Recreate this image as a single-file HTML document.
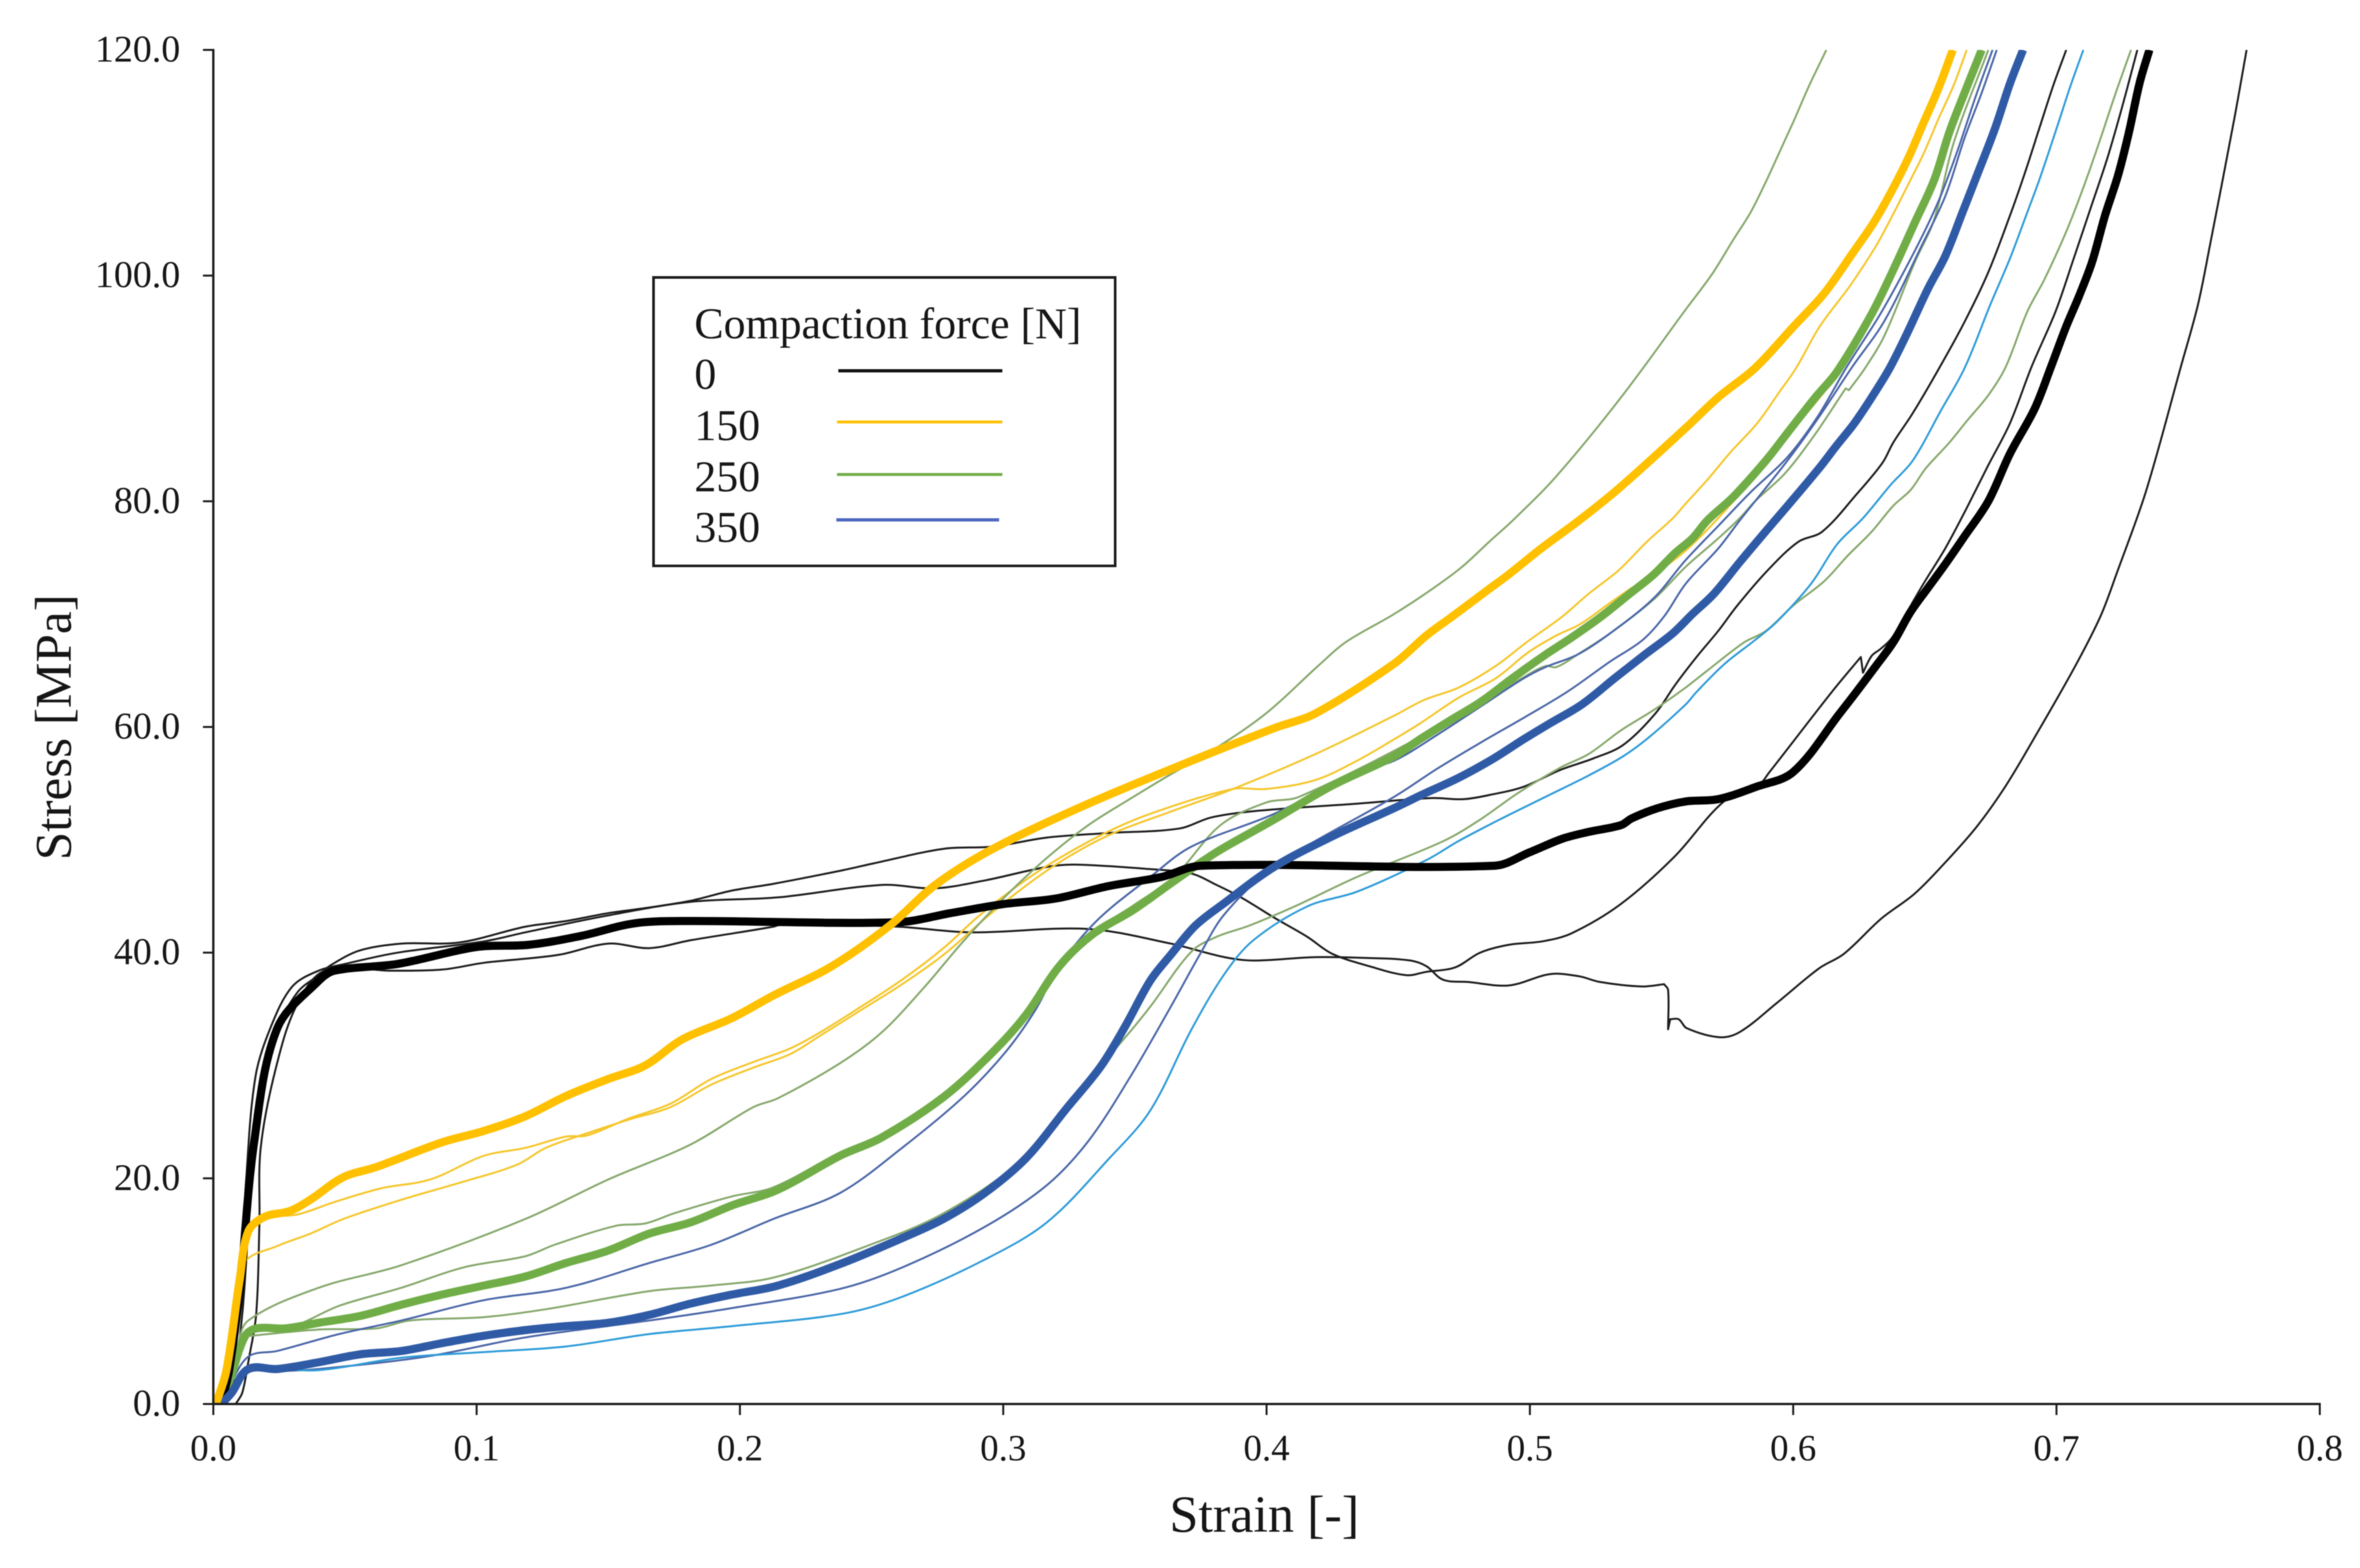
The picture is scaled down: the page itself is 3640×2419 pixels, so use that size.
<!DOCTYPE html>
<html lang="en">
<head>
<meta charset="utf-8">
<title>Stress vs Strain by Compaction Force</title>
<style>
  html, body { margin: 0; padding: 0; background: #fff; }
  body { width: 3640px; height: 2419px; overflow: hidden; }
  svg { display: block; filter: blur(0.8px); }
  text { font-family: "Liberation Serif", "Times New Roman", serif; fill: #151515; }
</style>
</head>
<body>
<svg id="chart" xmlns="http://www.w3.org/2000/svg" width="3640" height="2419" viewBox="0 0 3640 2419">
  <defs>
    <clipPath id="plot-clip"><rect x="329" y="77" width="3249" height="2089"/></clipPath>
  </defs>
  <rect x="0" y="0" width="3640" height="2419" fill="#ffffff"/>
  <g id="curves" clip-path="url(#plot-clip)"></g>
  <g id="axes"></g>
  <text x="1950" y="2363" font-size="80.5" text-anchor="middle">Strain [-]</text>
  <text transform="translate(109 1122) rotate(-90)" font-size="79" text-anchor="middle">Stress [MPa]</text>
  <g>
    <rect x="1008" y="428" width="712" height="445" fill="#ffffff" stroke="#1a1a1a" stroke-width="4"/>
    <text x="1071" y="522" font-size="67.6">Compaction force [N]</text>
    <text x="1071" y="600" font-size="67.6">0</text>
    <line x1="1293" y1="572" x2="1546" y2="572" stroke="#111111" stroke-width="5"/>
    <text x="1071" y="679" font-size="67.6">150</text>
    <line x1="1291" y1="651" x2="1546" y2="651" stroke="#FFC000" stroke-width="4.5"/>
    <text x="1071" y="758" font-size="67.6">250</text>
    <line x1="1291" y1="732" x2="1546" y2="732" stroke="#70AD47" stroke-width="4.5"/>
    <text x="1071" y="836" font-size="67.6">350</text>
    <line x1="1290" y1="802" x2="1541" y2="802" stroke="#4A66BE" stroke-width="5"/>
  </g>
</svg>
<script>
const xTickValues = [0, 0.1, 0.2, 0.3, 0.4, 0.5, 0.6, 0.7, 0.8];
const xTickLabels = ["0.0", "0.1", "0.2", "0.3", "0.4", "0.5", "0.6", "0.7", "0.8"];
const yTickValues = [0, 20, 40, 60, 80, 100, 120];
const yTickLabels = ["0.0", "20.0", "40.0", "60.0", "80.0", "100.0", "120.0"];

const blackThinAStrain = [.002,.007,.011,.014,.018,.024,.032,.04,.0447,.0557,.0714,.0934,.1185,.134,.15,.1656,.1813,.197,.2127,.239,.2506,.2773,.2961,.3166,.34,.3668,.3793,.3982,.4343,.4624,.4747,.4853,.4976,.5116,.524,.5354,.5477,.5551,.5633,.5715,.5789,.5904,.6019,.611,.624,.6339,.638,.6454,.6552,.6651,.6741,.6823,.688,.693,.6987,.7037];
const blackThinAStress = [0,1.5,8,18,27,33,36.5,38,38.9,40.2,40.8,40.9,42.3,42.8,43.5,44,44.6,45.5,46.1,47.3,47.9,49.2,49.4,50.2,50.6,51,52,52.6,53.2,53.7,53.6,54,54.7,56.2,57.2,58.4,61.2,63.7,66.2,68.5,70.8,73.9,76.4,77.3,80.6,83.4,85.2,87.8,91.7,95.9,100.3,105.3,109.1,112.7,116.8,120];

const blackThinBStrain = [.001,.006,.010,.0125,.016,.022,.03,.04,.05,.07,.1028,.1185,.15,.1813,.2145,.2537,.274,.293,.3166,.3275,.3558,.3715,.381,.3903,.4029,.4155,.4249,.439,.4531,.4607,.4717,.4811,.4921,.5047,.5157,.5345,.5549,.5737,.5863,.591,.615,.6257,.6265,.6298,.6331,.6372,.6413,.6495,.6577,.6659,.6741,.6823,.6905,.6996,.7061,.7127,.7193,.725,.7307];
const blackThinBStress = [0,2,10,20,29,33.5,37,38.4,39,40,41,41.8,43.3,44.5,44.9,46,45.7,46.4,47.6,47.8,47.4,47,46,44.9,43.1,41.4,39.9,38.8,38,38.3,38.7,40,40.7,41,41.7,44.3,48.5,53.4,54.7,56,63.2,66.2,64.8,66.3,66.9,67.8,69.4,72.7,75.8,79.4,83.2,86.9,91.9,96.8,101.2,105.8,110.4,115,120];

const blackThinCStrain = [.0085,.011,.0135,.0163,.0175,.018,.024,.032,.0431,.0667,.087,.1028,.131,.15,.1656,.1813,.2127,.2174,.26,.288,.332,.3636,.384,.395,.4186,.442,.4547,.4607,.467,.4764,.4921,.5078,.5188,.5266,.5423,.551,.5525,.5525,.5533,.5565,.5596,.5722,.58,.5941,.6098,.6193,.6334,.646,.657,.6695,.6805,.6915,.7069,.7167,.723,.734,.7472,.7537,.7587,.7628,.7677,.7722];
const blackThinCStress = [0,1,4,8,16,22.7,30,35.5,38.5,38.4,38.5,39.1,39.8,40.8,40.4,41.1,42.3,42.6,42.3,41.8,42.1,40.8,39.6,39.3,39.6,39.5,39.3,38.8,37.6,37.4,37.1,38.1,37.9,37.4,37,37.2,36.7,33.2,34.1,34.1,33.3,32.5,33,35.6,38.6,39.9,43,45.2,47.8,51.1,54.7,59,65.3,69.8,73.7,80.9,91.9,97.4,103.2,108.1,114.1,120];

const yellowThinAStrain = [.001,.005,.01,.014,.018,.032,.046,.0635,.0824,.1028,.1185,.134,.142,.1577,.1735,.1891,.205,.219,.2302,.2459,.2616,.2773,.29,.3024,.3166,.337,.3558,.3872,.3998,.4186,.4343,.4484,.4582,.473,.487,.4993,.51,.519,.5305,.5379,.547,.56,.5773,.5986,.6167,.638,.6593,.6716];
const yellowThinAStress = [0,4,11,15,16.4,16.8,17.9,19.1,19.9,22,22.7,23.7,23.8,25.3,26.6,28.8,30.3,31.5,32.9,35.2,37.6,40.4,43.1,45.4,47.7,50.4,52.3,54.5,54.5,55.3,57,58.9,60.3,62.6,64.3,66.6,68.1,69.1,71,72.2,73.5,75.8,80,86,91.3,100.3,112.5,120];

const yellowThinBStrain = [.001,.004,.008,.0117,.0243,.0369,.0494,.0714,.0949,.1153,.1263,.142,.1577,.1735,.1891,.205,.219,.2302,.2459,.2616,.2773,.293,.3056,.3213,.34,.3636,.3872,.4186,.4484,.4599,.473,.487,.4993,.5124,.5223,.5338,.5444,.5543,.5592,.5674,.5764,.5863,.5945,.6011,.6101,.6216,.6314,.6372,.6446,.6495,.6552,.661,.6659];
const yellowThinBStress = [0,3,8,12.5,14,15.1,16.4,18.1,19.7,21.2,22.7,24,25.2,26.3,28.3,29.8,31,32.6,34.9,37.2,39.8,43,45.4,48,50.4,52.5,54.5,57.6,61,62.4,63.5,65.4,67.6,69.8,71.8,73.9,76.4,78.5,79.8,81.9,84.4,86.9,89.6,91.8,95.5,99.1,102.6,105.1,108.5,110.8,113.9,116.9,120];

const greenThinAStrain = [.001,.005,.009,.0133,.04,.0714,.1185,.15,.1813,.205,.2145,.238,.2537,.2695,.2852,.3009,.3166,.3323,.348,.3636,.3793,.3998,.42,.43,.4484,.4615,.4738,.4845,.4944,.51,.5346,.5592,.5691,.5773,.5838,.5896,.5953,.6002,.606,.6126];
const greenThinAStress = [0,2,5,7.4,10.3,12.3,16.4,19.9,23,26.3,27.1,30.2,32.9,36.8,41.1,45,48.4,51.3,53.6,55.8,57.9,61.2,65.5,67.5,70,72,74.1,76.4,78.5,82.2,89.2,97,100.1,103.2,105.6,108.3,111.2,113.7,116.8,120];

const greenThinBStrain = [.002,.006,.012,.0306,.0478,.0714,.0949,.1185,.1295,.153,.164,.175,.197,.2127,.238,.2537,.2773,.2961,.3087,.3213,.3338,.3495,.3652,.3825,.3998,.4123,.4607,.4976,.5059,.51,.518,.5305,.547,.5592,.5715,.5797,.5855,.597,.6085,.6199,.6212,.6273,.6347,.6462,.6536,.661,.6741];
const greenThinBStress = [0,2,6,6.9,8.7,10.3,12.1,13.1,14.1,15.8,16,16.9,18.4,19.2,22.3,23.9,27.5,31.5,34.8,39,41.8,44.2,46.8,51.3,53.3,53.8,59.4,64.4,65.4,65.3,66.4,68.3,71.3,74.2,76.7,78.5,80,82.5,86,90,89.85,91.8,94.7,101.2,105,111.8,120];

const greenThinCStrain = [.002,.006,.012,.04,.0619,.0745,.1028,.1263,.1656,.189,.2127,.2459,.2773,.3087,.337,.3464,.3558,.3715,.381,.3935,.4107,.4343,.4673,.4812,.4952,.5116,.5223,.5346,.5477,.5592,.5674,.5814,.5896,.6002,.6117,.6208,.6298,.638,.6446,.6503,.6593,.6659,.6741,.6807,.6889,.6955,.7037,.7102,.7168,.7225,.7283];
const greenThinCStress = [0,2,6,6.6,6.7,7.4,7.7,8.4,10,10.5,11.2,13.8,16.9,22,30,32.5,35.2,40.1,41.4,42.4,44.1,46.7,49.9,51.8,54.1,56.4,57.6,59.7,61.6,63.5,65,67.5,68.5,70.8,72.9,75.2,77.3,79.6,81,82.9,85.2,87.1,89.4,91.9,96.8,99.7,103.9,107.8,112.2,116.2,120];

const blueThinAStrain = [.002,.006,.0133,.0243,.0478,.0714,.1028,.134,.1656,.189,.2127,.238,.2616,.2852,.3009,.3119,.3213,.3354,.3558,.3715,.4029,.4343,.4484,.4648,.4812,.4976,.5059,.518,.5305,.547,.5592,.5715,.5838,.5978,.6093,.6203,.6331,.6462,.6552,.6626,.6692,.6757];
const blueThinAStress = [0,1.5,4.2,4.7,6.2,7.4,9.2,10.3,12.5,14.1,16.4,18.7,22.7,27.3,31.2,34.8,38.8,42.8,46.7,49.4,52.3,56,57,59.3,61.8,64.3,65.3,66.4,68.3,71.4,74.8,77.8,80.8,83.9,87.5,91.9,96.6,102.2,106.6,111.2,115.8,120];

const blueThinBStrain = [.003,.007,.0133,.0243,.04,.0808,.1185,.1656,.197,.238,.2616,.293,.3166,.3323,.348,.3636,.3746,.384,.4029,.4186,.4484,.4648,.4812,.4976,.5141,.5305,.5428,.551,.5592,.5715,.5797,.5978,.6093,.6224,.6347,.6487,.6577,.6651,.6716,.6773];
const blueThinBStress = [0,1,2.8,2.9,3.1,4.2,5.9,7.4,8.5,10.2,12.1,15.7,19.4,23.3,28.9,35.2,39.8,43.4,47.7,49.9,53.8,56.3,58.6,60.8,63.1,65.8,67.7,69.8,72.7,75.8,78.3,83.6,87.3,91.9,96,102.6,107,112.2,116.2,120];

const lightBlueThinStrain = [.003,.008,.0133,.04,.0714,.1028,.134,.1656,.197,.239,.2616,.293,.3166,.34,.3558,.3715,.384,.395,.4155,.4343,.4607,.473,.4894,.5059,.5223,.5354,.5453,.5592,.5633,.574,.5855,.5937,.6068,.6167,.6265,.6372,.6454,.656,.6651,.675,.6823,.6889,.6938,.7004,.7053,.7102];
const lightBlueThinStress = [0,1,3,3,4.1,4.6,5.1,6.2,6.9,8,9.5,12.8,16.1,21.7,26,33.2,38.1,41.1,44.1,45.4,48.2,49.9,51.9,53.8,55.7,57.4,59.1,62,63.1,65.6,67.7,69.3,72.7,76.2,78.5,81.5,83.6,88,91.8,97.5,101.5,105.6,108.7,113.3,116.8,120];

const greenThickStrain = [.002,.006,.012,.0164,.0274,.04,.0557,.0714,.087,.1028,.1185,.134,.15,.1656,.1813,.197,.2145,.238,.2537,.2773,.2961,.3087,.3213,.3338,.3495,.3652,.381,.4029,.4249,.4484,.4582,.4706,.4812,.4944,.5059,.5157,.5272,.5379,.547,.5551,.5617,.5674,.5773,.5896,.5986,.6084,.6167,.6298,.638,.6462,.6536,.6593,.6651,.6716];
const greenThickStress = [0,2,6,6.7,6.7,7.2,7.8,8.8,9.7,10.5,11.3,12.5,13.6,15.1,16.1,17.6,19,22,23.6,27.2,31.2,34.5,38.8,41.6,43.8,46.4,48.9,51.8,54.8,57.4,58.9,60.7,62.2,64.5,66.4,67.9,69.8,71.8,73.5,75.4,76.7,78.3,80.4,83.6,86.3,89.2,91.5,96.6,100.5,104.7,108.5,112.7,116.2,120];

const blackThickStrain = [.003,.006,.0101,.0156,.0243,.04,.046,.07,.1,.12,.14,.16,.18,.26,.28,.30,.32,.34,.36,.375,.4866,.5,.5124,.5223,.5346,.5387,.5485,.5592,.5715,.586,.60,.618,.624,.6314,.638,.6446,.6511,.6577,.6651,.6741,.6823,.6917,.6979,.7037,.7086,.7135,.7184,.7234,.7275,.7316,.7353];
const blackThickStress = [0,3,10.2,23.4,33.3,37.5,38.4,39,40.5,40.7,41.5,42.6,42.8,42.7,43.5,44.3,44.8,45.9,46.7,47.7,47.7,48.9,50.1,50.7,51.3,51.9,52.8,53.4,53.6,54.7,56,61.3,63.1,65.4,67.5,70.2,72.3,74.4,76.9,80,84.2,88.2,91.9,95.5,98.2,101.2,105.3,108.9,112.7,117.1,120];

const blueThickStrain = [.003,.007,.0133,.0243,.04,.0557,.0714,.087,.1028,.1185,.134,.15,.1656,.1813,.197,.2145,.238,.2616,.2773,.293,.3087,.3244,.337,.3464,.3558,.3636,.373,.384,.4029,.4249,.4484,.4591,.473,.4862,.4976,.5075,.5198,.5321,.5436,.5543,.5617,.5699,.5797,.5887,.5986,.6101,.6167,.6232,.6298,.6364,.6429,.6511,.6577,.6643,.67,.6766,.6823,.6873];
const blueThickStress = [0,1,3.1,3.1,3.7,4.4,4.7,5.4,6.05,6.55,6.9,7.2,7.9,8.9,9.7,10.5,12.4,14.7,16.4,18.7,21.8,26.3,29.9,33.5,37.5,39.8,42.4,44.4,47.6,50.3,52.8,54,55.5,57.2,58.9,60.3,62,64.3,66.4,68.3,70,71.8,74.6,77.1,79.8,83,85,86.9,89.2,91.7,94.7,98.8,101.7,105.6,109,113,117,120];

const orangeThickStrain = [.001,.005,.01,.0133,.0196,.029,.0368,.0494,.0619,.087,.1028,.1185,.134,.15,.164,.178,.197,.2127,.2349,.2569,.2742,.2961,.3323,.3715,.403,.4186,.4484,.4607,.4706,.4829,.4919,.5042,.5198,.5346,.5592,.5715,.5855,.6002,.6117,.6232,.6306,.6372,.6437,.6487,.6552,.6606];
const orangeThickStress = [0,3,11,15.3,16.6,17.1,18.1,20.1,21,23.2,24.2,25.5,27.3,28.8,30,32.3,34.2,36.2,38.8,42.4,46,49.2,53.2,57,59.9,61.2,65.6,68.1,69.8,71.95,73.5,75.8,78.5,81.3,86.5,89.2,91.8,95.5,98.4,102.2,104.7,107.4,110.4,113.1,116.6,120];

const NS = "http://www.w3.org/2000/svg";
const plotLeft = 329, plotRight = 3578, plotTop = 77, plotBottom = 2166;
const xMax = 0.8, yMax = 120;
function xScale(v) { return plotLeft + (v / xMax) * (plotRight - plotLeft); }
function yScale(v) { return plotBottom - (v / yMax) * (plotBottom - plotTop); }

function smoothPath(pts) {
  function unit(a, b) {
    const dx = b[0] - a[0], dy = b[1] - a[1];
    const len = Math.hypot(dx, dy) || 1;
    return [dx / len, dy / len, len];
  }
  const n = pts.length;
  const tangents = [];
  for (let i = 0; i < n; i++) {
    if (i === 0 || i === n - 1) { tangents.push(null); continue; }
    const u = unit(pts[i - 1], pts[i]);
    const v = unit(pts[i], pts[i + 1]);
    if (u[0] * v[0] + u[1] * v[1] < 0.5) { tangents.push(null); continue; }
    const t = unit(pts[i - 1], pts[i + 1]);
    tangents.push([t[0], t[1]]);
  }
  let d = "M" + pts[0][0].toFixed(1) + " " + pts[0][1].toFixed(1);
  for (let i = 0; i < n - 1; i++) {
    const seg = unit(pts[i], pts[i + 1]);
    const h = seg[2] / 3;
    const t0 = tangents[i] || [seg[0], seg[1]];
    const t1 = tangents[i + 1] || [seg[0], seg[1]];
    const c1x = pts[i][0] + t0[0] * h, c1y = pts[i][1] + t0[1] * h;
    const c2x = pts[i + 1][0] - t1[0] * h, c2y = pts[i + 1][1] - t1[1] * h;
    d += "C" + c1x.toFixed(1) + " " + c1y.toFixed(1) + " " + c2x.toFixed(1) + " " + c2y.toFixed(1) + " " + pts[i + 1][0].toFixed(1) + " " + pts[i + 1][1].toFixed(1);
  }
  return d;
}

const seriesList = [
  { name: "curve-0n-thin-a", strain: blackThinAStrain, stress: blackThinAStress, color: "#1c1c1c", width: 3 },
  { name: "curve-0n-thin-b", strain: blackThinBStrain, stress: blackThinBStress, color: "#1c1c1c", width: 3 },
  { name: "curve-0n-thin-c", strain: blackThinCStrain, stress: blackThinCStress, color: "#1c1c1c", width: 3 },
  { name: "curve-150n-thin-a", strain: yellowThinAStrain, stress: yellowThinAStress, color: "#F5C62A", width: 3 },
  { name: "curve-150n-thin-b", strain: yellowThinBStrain, stress: yellowThinBStress, color: "#F5C62A", width: 3 },
  { name: "curve-250n-thin-a", strain: greenThinAStrain, stress: greenThinAStress, color: "#86A86C", width: 3 },
  { name: "curve-250n-thin-b", strain: greenThinBStrain, stress: greenThinBStress, color: "#86A86C", width: 3 },
  { name: "curve-250n-thin-c", strain: greenThinCStrain, stress: greenThinCStress, color: "#86A86C", width: 3 },
  { name: "curve-350n-thin-a", strain: blueThinAStrain, stress: blueThinAStress, color: "#4A66A8", width: 3 },
  { name: "curve-350n-thin-b", strain: blueThinBStrain, stress: blueThinBStress, color: "#4A66A8", width: 3 },
  { name: "curve-350n-thin-c", strain: lightBlueThinStrain, stress: lightBlueThinStress, color: "#2E9BD8", width: 3 },
  { name: "curve-250n-mean", strain: greenThickStrain, stress: greenThickStress, color: "#70AD47", width: 12.5 },
  { name: "curve-0n-mean", strain: blackThickStrain, stress: blackThickStress, color: "#000000", width: 12.5 },
  { name: "curve-350n-mean", strain: blueThickStrain, stress: blueThickStress, color: "#2F5AA5", width: 12.5 },
  { name: "curve-150n-mean", strain: orangeThickStrain, stress: orangeThickStress, color: "#FFC000", width: 12.5 }
];

const curvesGroup = document.getElementById("curves");
seriesList.forEach(function (s) {
  const count = Math.min(s.strain.length, s.stress.length);
  const pts = [];
  for (let i = 0; i < count; i++) {
    pts.push([xScale(s.strain[i]), yScale(s.stress[i])]);
  }
  const line = document.createElementNS(NS, "path");
  line.setAttribute("d", smoothPath(pts));
  line.setAttribute("fill", "none");
  line.setAttribute("stroke", s.color);
  line.setAttribute("stroke-width", s.width);
  line.setAttribute("stroke-linejoin", "round");
  
  
  curvesGroup.appendChild(line);
});

const axesGroup = document.getElementById("axes");
function addLine(x1, y1, x2, y2, w) {
  const l = document.createElementNS(NS, "line");
  l.setAttribute("x1", x1);
  l.setAttribute("y1", y1);
  l.setAttribute("x2", x2);
  l.setAttribute("y2", y2);
  l.setAttribute("stroke", "#1a1a1a");
  l.setAttribute("stroke-width", w);
  axesGroup.appendChild(l);
  return l;
}
const xAxisLine = addLine(plotLeft, plotBottom, plotRight + 1.5, plotBottom, 3.5);


const yAxisLine = addLine(plotLeft, plotTop - 1.5, plotLeft, plotBottom, 3.5);



xTickValues.forEach(function (v, i) {
  const x = xScale(v);
  const tick = addLine(x, plotBottom, x, plotBottom + 17, 3);
  
  
  const label = document.createElementNS(NS, "text");
  label.setAttribute("x", x);
  label.setAttribute("y", 2253);
  label.setAttribute("font-size", 57);
  label.setAttribute("text-anchor", "middle");
  label.textContent = xTickLabels[i];
  
  
  axesGroup.appendChild(label);
});

yTickValues.forEach(function (v, i) {
  const y = yScale(v);
  const tick = addLine(plotLeft - 16, y, plotLeft, y, 3);
  
  
  const label = document.createElementNS(NS, "text");
  label.setAttribute("x", 278);
  label.setAttribute("y", y + 18);
  label.setAttribute("font-size", 58.5);
  label.setAttribute("text-anchor", "end");
  label.textContent = yTickLabels[i];
  
  
  axesGroup.appendChild(label);
});
</script>
</body>
</html>
